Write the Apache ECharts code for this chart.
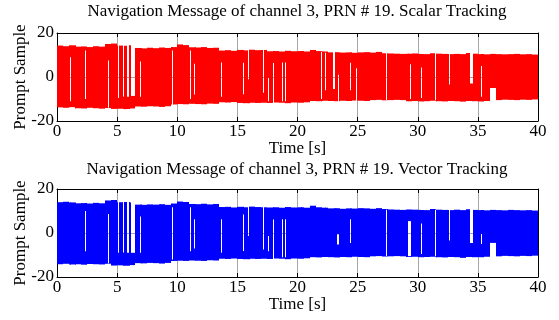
<!DOCTYPE html>
<html>
<head>
<meta charset="utf-8">
<script src="https://cdn.jsdelivr.net/npm/echarts@6/dist/echarts.min.js"></script>
<style>
  html, body { margin: 0; padding: 0; background: #fff; }
  #chart { width: 559px; height: 320px; }
</style>
</head>
<body>
<div id="chart"></div>
<script>
// envelope of the prompt samples, one value per 0.5 s bin (0 .. 40 s)
const binWidth = 0.5;

const scalarHi = [14.3, 14.0, 14.4, 13.8, 13.9, 13.6, 14.0, 13.8, 15.0, 15.2,
  14.3, 14.2, 14.4, 13.2, 13.0, 13.3, 13.1, 13.4, 13.2, 13.6,
  14.8, 14.5, 13.5, 13.4, 13.6, 13.2, 13.3, 12.0, 12.2, 11.9,
  12.3, 12.1, 12.4, 12.2, 12.3, 11.7, 11.8, 11.6, 11.9, 11.7,
  11.8, 11.6, 12.3, 11.8, 11.6, 11.2, 11.3, 11.1, 11.2, 11.0,
  11.2, 11.3, 11.1, 11.4, 10.8, 10.7, 10.6, 10.5, 10.6, 10.7,
  10.5, 10.4, 10.8, 10.6, 10.5, 10.4, 10.5, 10.4, 10.9, 10.6,
  10.4, 10.3, 10.5, 10.4, 10.3, 10.4, 10.5, 10.3, 10.4, 10.2];
const scalarLo = [-13.8, -14.0, -13.7, -14.2, -14.3, -14.0, -14.2, -14.4, -14.1, -14.5,
  -14.4, -14.6, -14.3, -13.4, -13.5, -13.3, -13.4, -13.6, -13.3, -12.5,
  -12.3, -12.4, -12.2, -12.3, -12.4, -12.1, -12.2, -11.5, -11.6, -11.4,
  -11.8, -11.9, -11.7, -11.8, -11.7, -11.8, -11.6, -11.7, -11.9, -11.6,
  -11.7, -11.5, -10.9, -11.0, -10.8, -10.9, -11.0, -10.8, -10.9, -10.7,
  -10.8, -10.9, -10.5, -10.4, -10.6, -10.5, -10.4, -10.5, -11.0, -10.9,
  -11.1, -11.0, -10.8, -11.0, -11.1, -10.9, -11.0, -11.2, -10.9, -11.0,
  -11.1, -10.9, -10.4, -10.5, -10.3, -10.4, -10.5, -10.3, -10.4, -10.2];
// stretches where the bit does not flip: [t start, t end, empty from, empty to]
const scalarGaps = [
  [1.06, 1.13, -11, 9], [1.46, 1.53, -8, 12], [2.35, 2.42, -10, 12],
  [4.25, 4.33, -14, 7.5], [5.05, 5.17, -9.5, 16], [5.45, 5.55, -9, 16],
  [5.85, 5.95, -9, 16], [6.15, 6.5, -8.6, 16], [6.88, 6.95, -9, 7],
  [9.55, 9.63, -12.5, 12], [11.1, 11.17, -10, 12], [11.4, 11.46, -8, 6],
  [13.62, 13.68, -9, 6.6], [15.48, 15.54, -8, 6.6], [15.9, 15.95, -1, 12],
  [17.15, 17.25, -7.2, 13], [17.55, 17.62, -11, -0.5], [17.95, 18.02, -12, 6.5],
  [18.75, 18.82, -11, 6.6], [19.0, 19.06, -11, 6.6], [20.25, 20.32, -12, 6.6],
  [21.98, 22.05, -10, 11.5], [22.3, 22.4, -6, 11], [22.95, 23.1, -5.5, 12],
  [23.4, 23.48, -12, 1], [24.4, 24.47, -6, 6.5], [24.85, 24.95, -11, 4],
  [27.35, 27.45, -10.5, 11], [29.15, 29.22, -10, 5.8], [29.35, 29.42, -10, 5.8],
  [30.28, 30.34, -9.5, 4.3], [31.45, 31.55, -10.5, 11], [32.6, 32.7, -3.4, 11],
  [34.35, 34.6, -3, 12], [35.25, 35.33, -9, 5], [36.0, 36.5, -11, -5]
];

const vectorHi = [14.0, 14.2, 13.9, 13.5, 13.6, 13.4, 13.7, 13.5, 14.8, 15.0,
  14.0, 14.1, 13.9, 12.9, 12.8, 13.0, 12.9, 13.1, 12.8, 13.4,
  14.3, 14.1, 13.2, 13.1, 13.3, 13.0, 13.2, 11.8, 11.9, 11.6,
  11.9, 11.7, 12.0, 11.8, 11.7, 11.6, 11.7, 11.5, 11.8, 11.6,
  11.7, 11.5, 12.4, 11.7, 11.5, 11.2, 11.3, 11.0, 11.2, 11.1,
  11.3, 11.2, 11.0, 11.3, 10.9, 10.7, 10.6, 10.5, 10.7, 10.6,
  10.5, 10.4, 10.9, 10.6, 10.5, 10.4, 10.6, 10.4, 10.8, 10.5,
  10.4, 10.3, 10.5, 10.4, 10.3, 10.5, 10.4, 10.3, 10.4, 10.2];
const vectorLo = [-14.2, -14.0, -14.3, -14.2, -14.4, -14.1, -14.2, -14.3, -14.0, -14.8,
  -14.7, -14.9, -14.6, -13.7, -13.8, -13.6, -13.7, -13.9, -13.6, -12.7,
  -12.6, -12.7, -12.5, -12.6, -12.7, -12.4, -12.5, -11.7, -11.8, -11.6,
  -11.8, -11.9, -11.7, -11.8, -11.7, -11.8, -11.6, -11.7, -11.9, -11.6,
  -11.7, -11.5, -11.0, -11.1, -10.9, -11.0, -11.1, -10.9, -11.0, -10.8,
  -10.9, -11.0, -10.6, -10.5, -10.7, -10.6, -10.5, -10.6, -10.9, -10.8,
  -11.0, -10.9, -10.8, -11.0, -11.1, -10.9, -11.0, -11.3, -10.9, -11.0,
  -11.0, -10.8, -10.5, -10.6, -10.4, -10.5, -10.6, -10.4, -10.5, -10.3];
const vectorGaps = [
  [1.05, 1.12, -8.3, 9.4], [1.46, 1.53, -8.3, 11.7], [2.35, 2.42, -8.3, 10],
  [4.24, 4.32, -13.7, 8.6], [5.05, 5.17, -9, 16], [5.45, 5.55, -9, 16],
  [5.85, 5.95, -9, 16], [6.15, 6.5, -9, 16], [6.88, 6.95, -9, 7.5],
  [9.55, 9.68, -12, 11.7], [11.1, 11.17, -8.3, 11.7], [11.42, 11.48, -7, 6.3],
  [13.65, 13.71, -9, 6.3], [15.48, 15.54, -8.3, 8.5], [15.9, 15.95, -1.4, 11.7],
  [17.15, 17.25, -7.5, 11.7], [17.55, 17.62, -8.3, -1.4], [17.95, 18.02, -12, 6.3],
  [18.72, 18.78, -11, 6.3], [19.0, 19.06, -11, 6.3], [20.25, 20.32, -12, 6.3],
  [22.25, 22.32, -9.8, 6.3], [23.3, 23.45, -5.2, -0.6], [24.4, 24.47, -4.5, 6.3],
  [27.32, 27.42, -10.5, 10.6], [29.15, 29.4, -10.5, 5.4], [30.28, 30.34, -9.5, 4.3],
  [31.45, 31.55, -10.5, 10.6], [32.6, 32.7, -3.4, 10.6], [34.35, 34.6, -4.5, 11],
  [35.25, 35.32, -5, -0.5], [36.0, 36.5, -10.6, -4.5]
];

// split each bin into drawn pieces [t0, t1, lo, hi], leaving the empty part of the gaps out
function buildPieces(hi, lo, gaps) {
  const pieces = [];
  for (let i = 0; i < hi.length; i++) {
    const a = i * binWidth;
    const b = a + binWidth;
    let cur = a;
    const inBin = gaps.filter(g => g[1] > a && g[0] < b).sort((p, q) => p[0] - q[0]);
    inBin.forEach(g => {
      const g0 = Math.max(g[0], a);
      const g1 = Math.min(g[1], b);
      if (g0 > cur) pieces.push([cur, g0, lo[i], hi[i], 0]);
      if (g[2] > lo[i]) pieces.push([g0, g1, lo[i], Math.min(g[2], hi[i]), 1]);
      if (g[3] < hi[i]) pieces.push([g0, g1, Math.max(g[3], lo[i]), hi[i], 1]);
      cur = Math.max(cur, g1);
    });
    if (cur < b) pieces.push([cur, b, lo[i], hi[i], 0]);
  }
  return pieces;
}

function renderBand(color) {
  return function (params, api) {
    const p0 = api.coord([api.value(0), api.value(3)]);
    const p1 = api.coord([api.value(1), api.value(2)]);
    let x0 = Math.round(p0[0]);
    let x1 = Math.round(p1[0]);
    if (x1 - x0 < 1) x1 = x0 + 1;
    return {
      type: 'rect',
      shape: { x: x0, y: p0[1], width: x1 - x0, height: p1[1] - p0[1] },
      style: { fill: color }
    };
  };
}

const font = 'Liberation Serif';
const titles = ['Navigation Message of channel 3, PRN # 19. Scalar Tracking',
  'Navigation Message of channel 3, PRN # 19. Vector Tracking'];

function xAxes(gridIndex) {
  return [
    {
      gridIndex: gridIndex, type: 'value', min: 0, max: 40, interval: 5,
      name: 'Time [s]', nameLocation: 'middle', nameGap: 19, nameMoveOverlap: false,
      nameTextStyle: { fontFamily: font, fontSize: 17, color: '#000' },
      axisLine: { show: true, onZero: false, lineStyle: { color: '#000' } },
      axisTick: { inside: true, length: 4, lineStyle: { color: '#000' } },
      axisLabel: { margin: 2, fontFamily: font, fontSize: 17, color: '#000' },
      splitLine: { show: true, lineStyle: { color: '#a6a6a6' } }
    },
    {
      gridIndex: gridIndex, type: 'value', min: 0, max: 40, interval: 5, position: 'top',
      axisLine: { show: true, onZero: false, lineStyle: { color: '#000' } },
      axisTick: { inside: true, length: 4, lineStyle: { color: '#000' } },
      axisLabel: { show: false },
      splitLine: { show: false }
    }
  ];
}

function yAxes(gridIndex) {
  return [
    {
      gridIndex: gridIndex, type: 'value', min: -20, max: 20, interval: 20,
      name: 'Prompt Sample', nameLocation: 'middle', nameGap: 28, nameMoveOverlap: false,
      nameTextStyle: { fontFamily: font, fontSize: 17, color: '#000' },
      axisLine: { show: true, onZero: false, lineStyle: { color: '#000' } },
      axisTick: { inside: true, length: 4, lineStyle: { color: '#000' } },
      axisLabel: { margin: 3, fontFamily: font, fontSize: 17, color: '#000' },
      splitLine: { show: true, lineStyle: { color: '#a6a6a6' } }
    },
    {
      gridIndex: gridIndex, type: 'value', min: -20, max: 20, interval: 20, position: 'right',
      axisLine: { show: true, onZero: false, lineStyle: { color: '#000' } },
      axisTick: { inside: true, length: 4, lineStyle: { color: '#000' } },
      axisLabel: { show: false },
      splitLine: { show: false }
    }
  ];
}

const myChart = echarts.init(document.getElementById('chart'));
let option;

option = {
  animation: false,
  graphic: [
    {
      type: 'text', x: 297, y: 12,
      style: { text: titles[0], font: '17px "Liberation Serif"', fill: '#000', textAlign: 'center', textVerticalAlign: 'middle' }
    },
    {
      type: 'text', x: 297, y: 170,
      style: { text: titles[1], font: '17px "Liberation Serif"', fill: '#000', textAlign: 'center', textVerticalAlign: 'middle' }
    }
  ],
  grid: [
    { left: 57, right: 21, top: 33, height: 88, outerBoundsMode: 'none' },
    { left: 57, right: 21, top: 189, height: 88, outerBoundsMode: 'none' }
  ],
  xAxis: xAxes(0).concat(xAxes(1)),
  yAxis: yAxes(0).concat(yAxes(1)),
  series: [
    {
      type: 'custom', xAxisIndex: 0, yAxisIndex: 0,
      renderItem: renderBand('#ff0000'),
      encode: { x: [0, 1], y: [2, 3] },
      data: buildPieces(scalarHi, scalarLo, scalarGaps)
    },
    {
      type: 'custom', xAxisIndex: 2, yAxisIndex: 2,
      renderItem: renderBand('#0000ff'),
      encode: { x: [0, 1], y: [2, 3] },
      data: buildPieces(vectorHi, vectorLo, vectorGaps)
    }
  ]
};

option && myChart.setOption(option);
</script>
</body>
</html>
